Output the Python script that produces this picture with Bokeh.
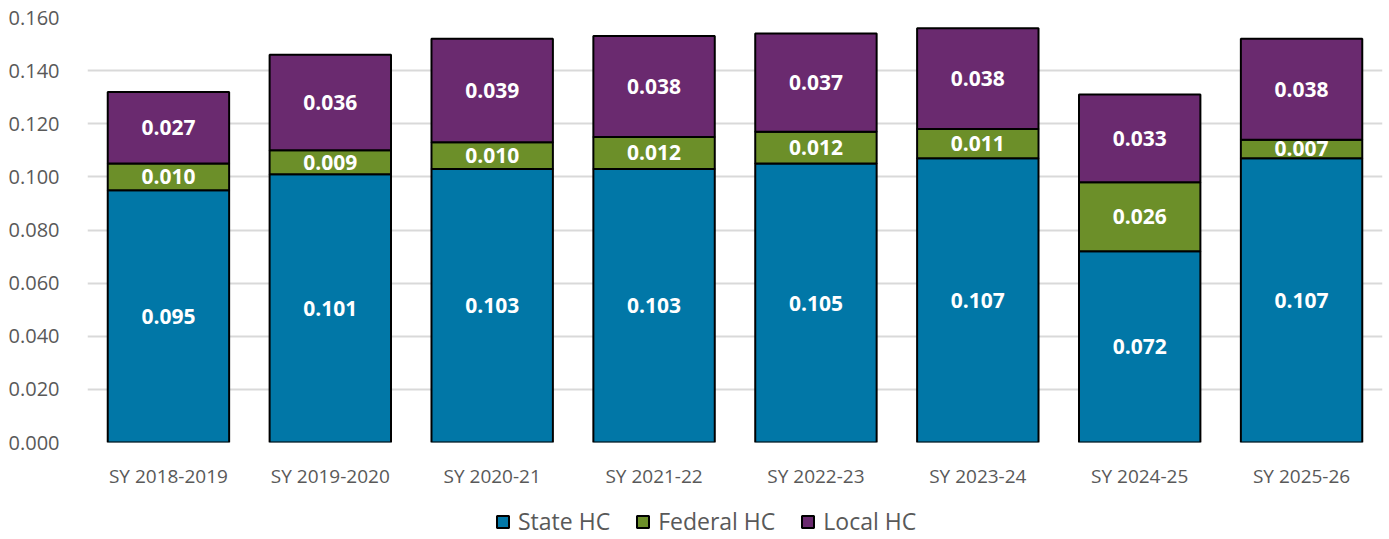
from bokeh.plotting import figure
from bokeh.layouts import column
from bokeh.models import (ColumnDataSource, FactorRange, Range1d, FixedTicker,
                          NumeralTickFormatter, Legend, LegendItem)
from bokeh.core.properties import value
from bokeh.embed import file_html
from bokeh.resources import INLINE

years = ["SY 2018-2019", "SY 2019-2020", "SY 2020-21", "SY 2021-22",
         "SY 2022-23", "SY 2023-24", "SY 2024-25", "SY 2025-26"]
state = [0.095, 0.101, 0.103, 0.103, 0.105, 0.107, 0.072, 0.107]
federal = [0.010, 0.009, 0.010, 0.012, 0.012, 0.011, 0.026, 0.007]
local = [0.027, 0.036, 0.039, 0.038, 0.037, 0.038, 0.033, 0.038]
series = ["State HC", "Federal HC", "Local HC"]
colors = ["#0177A7", "#6C8F29", "#6A2A6F"]
y_ticks = [0.0, 0.02, 0.04, 0.06, 0.08, 0.10, 0.12, 0.14, 0.16]

FONT = "Open Sans"
GRAY = "#595959"

src = ColumnDataSource(dict(year=years, s=state, f=federal, l=local))

p = figure(width=1389, height=500, x_range=FactorRange(*years),
           y_range=Range1d(0, 0.16), output_backend="svg",
           toolbar_location=None, min_border_left=87, min_border_right=7,
           min_border_top=17, min_border_bottom=58)
p.outline_line_color = None

rs = p.vbar_stack(["s", "f", "l"], x="year", width=0.75, source=src,
                  fill_color=colors, line_color="black", line_width=2)

# data labels
lab_x, lab_y, lab_t = [], [], []
for i, yr in enumerate(years):
    base = 0.0
    for v in (state[i], federal[i], local[i]):
        lab_x.append(yr)
        lab_y.append(base + v / 2)
        lab_t.append(f"{v:.3f}")
        base += v
p.text(x=lab_x, y=lab_y, text=lab_t, text_color="white",
       text_font=value(FONT), text_font_style="bold", text_font_size="21px",
       text_align="center", text_baseline="middle")

# axes
p.yaxis.ticker = FixedTicker(ticks=y_ticks)
p.yaxis.formatter = NumeralTickFormatter(format="0.000")
for ax in (p.xaxis[0], p.yaxis[0]):
    ax.axis_line_color = None
    ax.major_tick_line_color = None
    ax.minor_tick_line_color = None
    ax.major_label_text_color = GRAY
    ax.major_label_text_font = FONT
p.yaxis.major_label_text_font_size = "20px"
p.yaxis.major_label_standoff = 22
p.xaxis.major_label_text_font_size = "19px"
p.xaxis.major_label_standoff = 14

p.xgrid.grid_line_color = None
p.ygrid.ticker = FixedTicker(ticks=y_ticks)
p.ygrid.grid_line_color = "#D9D9D9"
p.ygrid.grid_line_width = 2
p.ygrid.level = "underlay"

# legend strip below the chart (its frame aligns with the chart's frame)
lg = figure(width=1389, height=39, output_backend="svg", toolbar_location=None,
            x_axis_type=None, y_axis_type=None, min_border=0,
            x_range=Range1d(0, 1), y_range=Range1d(0, 1))
lg.outline_line_color = None
lg.xgrid.visible = False
lg.ygrid.visible = False
nan = float("nan")
dummies = [lg.vbar(x=[nan], bottom=[nan], top=[nan], width=0.1, fill_color=c,
                   line_color="black", line_width=2) for c in colors]
legend = Legend(items=[LegendItem(label=series[i], renderers=[dummies[i]]) for i in range(3)],
                orientation="horizontal", location=(408, 2),
                glyph_width=15, glyph_height=15, label_standoff=8, spacing=25,
                padding=0, margin=0, label_text_font=FONT,
                label_text_font_size="23px", label_text_color=GRAY,
                border_line_alpha=0, background_fill_alpha=0, label_height=20)
lg.add_layout(legend, "center")

layout = column(p, lg, spacing=0)
open("out.html", "w").write(file_html(layout, INLINE))
